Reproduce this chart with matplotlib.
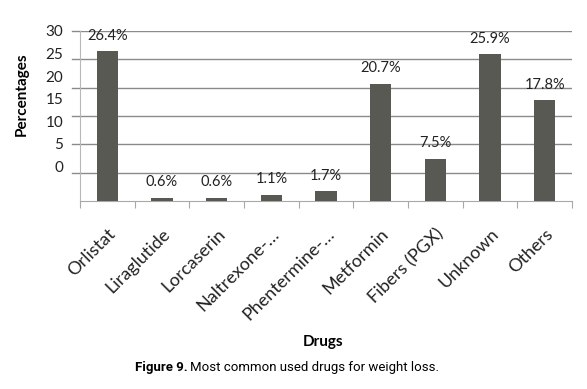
import matplotlib
matplotlib.use("Agg")
import matplotlib.pyplot as plt

categories = ["Orlistat", "Liraglutide", "Lorcaserin", "Naltrexone-…", "Phentermine-…",
              "Metformin", "Fibers (PGX)", "Unknown", "Others"]
values = [26.4, 0.6, 0.6, 1.1, 1.7, 20.7, 7.5, 25.9, 17.8]
grid_values = [0, 5, 10, 15, 20, 25, 30]
ytick_labels = ["30", "25", "20", "15", "10", "5", "0"]
# label positions as they appear (misaligned with gridlines) in the reference
ytick_positions = [30, 26.0, 22.0, 18.0, 14.1, 10.1, 6.1]

FONT = "Lato"
fig = plt.figure(figsize=(5.87, 3.89), dpi=100)
ax = fig.add_axes([80/587, 1-201/389, (572-80)/587, (201-31)/389])

x = list(range(len(categories)))
ax.bar(x, values, width=0.39, color="#595954", zorder=3)
for xi, v in zip(x, values):
    ax.annotate(f"{v}%", (xi, v), xytext=(0, 6), textcoords="offset points",
                ha="center", va="bottom", fontsize=10.5, family=FONT, color="#222222")

ax.set_xlim(-0.5, len(categories)-0.5)
ax.set_ylim(0, 30)
for g in grid_values[1:]:
    ax.axhline(g, color="#8a8a8a", lw=1.0, zorder=1)
    ax.plot([-0.65, -0.5], [g, g], color="#8a8a8a", lw=1.0, clip_on=False)

ax.set_yticks(ytick_positions)
ax.set_yticklabels(ytick_labels, family=FONT, fontsize=11, color="#222222")
ax.tick_params(axis="y", length=0, pad=12)

ax.set_xticks([i - 0.5 for i in range(len(categories)+1)], minor=False)
ax.set_xticklabels([])
ax.tick_params(axis="x", which="major", direction="out", length=5, color="#a8a8a8")
ax.set_xticks(x, minor=True)
ax.set_xticklabels(categories, minor=True, rotation=45, ha="right",
                   rotation_mode="anchor", family=FONT, fontsize=13, color="#222222")
ax.tick_params(axis="x", which="minor", length=0, pad=18)

for s in ["top", "right"]:
    ax.spines[s].set_visible(False)
ax.spines["left"].set_color("#b8b8b8")
ax.spines["bottom"].set_color("#a8a8a8")

ax.set_ylabel("Percentages", family=FONT, fontsize=11, fontweight="bold")
ax.yaxis.set_label_coords(-0.104, 0.63)
fig.text(323/587, 1-342/389, "Drugs", ha="center", va="center",
         family=FONT, fontsize=11, fontweight="bold")

fig.text(135/587, 1-368/389, "Figure 9.", ha="left", va="center",
         family="Roboto", fontsize=9.5, fontweight="bold", fontstretch="condensed")
fig.text(190/587, 1-368/389, "Most common used drugs for weight loss.", ha="left", va="center",
         family="Roboto", fontsize=9.5)

fig.savefig("out.png", dpi=100)
